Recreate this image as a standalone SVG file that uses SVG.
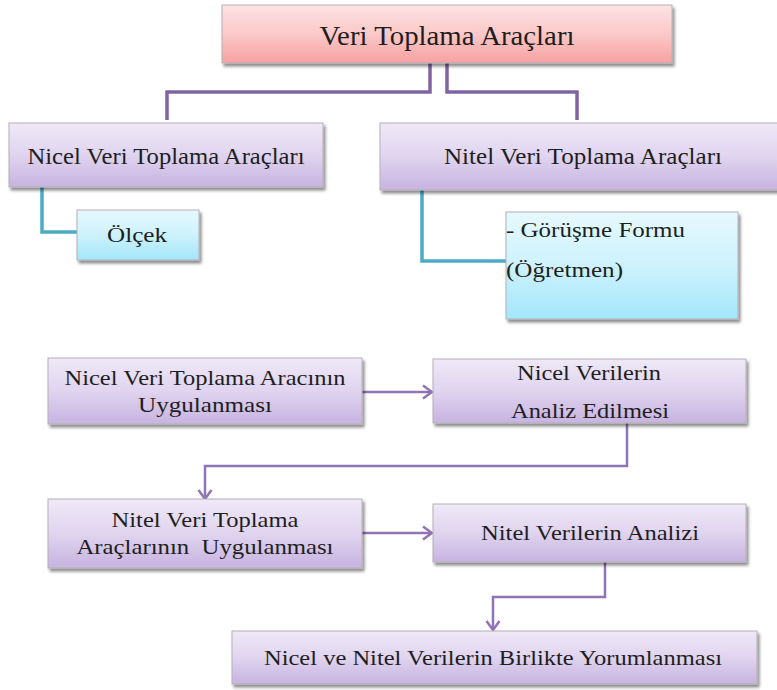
<svg xmlns="http://www.w3.org/2000/svg" width="777" height="690" viewBox="0 0 777 690">
<style>
.t{font-family:"Liberation Serif","DejaVu Serif",serif;fill:#1e1e1e;}
.box{stroke:#b4b0b8;stroke-width:1;filter:url(#sh);}
.pur{fill:url(#gPur);}
.cy{fill:url(#gCy);}
.pk{fill:url(#gPk);}
.lnP{fill:none;stroke:#8064a2;stroke-width:3.5;}
.lnC{fill:none;stroke:#4bacc6;stroke-width:3.5;}
.arr{fill:none;stroke:#8f74b6;stroke-width:2.5;marker-end:url(#ah);}
</style>
<defs>
<linearGradient id="gPur" x1="0" y1="0" x2="0" y2="1">
<stop offset="0" stop-color="#efe9f7"/><stop offset="0.5" stop-color="#e0d4ef"/><stop offset="1" stop-color="#c7b3e0"/>
</linearGradient>
<linearGradient id="gCy" x1="0" y1="0" x2="0" y2="1">
<stop offset="0" stop-color="#e6f9fe"/><stop offset="0.5" stop-color="#cdf2fc"/><stop offset="1" stop-color="#a3e6fa"/>
</linearGradient>
<linearGradient id="gPk" x1="0" y1="0" x2="0" y2="1">
<stop offset="0" stop-color="#fde3e3"/><stop offset="0.5" stop-color="#fbc8c8"/><stop offset="1" stop-color="#f7a1a1"/>
</linearGradient>
<filter id="sh" x="-5%" y="-10%" width="115%" height="135%">
<feDropShadow dx="2" dy="3" stdDeviation="1.5" flood-color="#000" flood-opacity="0.45"/>
</filter>
<marker id="ah" markerUnits="userSpaceOnUse" markerWidth="14" markerHeight="16" viewBox="0 0 14 16" refX="12" refY="8" orient="auto">
<path d="M3,1.5 L12,8 L3,14.5" fill="none" stroke="#8f74b6" stroke-width="2.5"/>
</marker>
</defs>

<g id="connectors">
<path class="lnP" d="M430,63 V92 H167 V120"/>
<path class="lnP" d="M447,63 V92 H577 V120"/>
<path class="lnC" d="M42,187 V232 H77"/>
<path class="lnC" d="M422,190 V261 H506"/>
<path class="arr" d="M362,392 H432"/>
<path class="arr" d="M627,423 V466 H205 V499"/>
<path class="arr" d="M362,533 H432"/>
<path class="arr" d="M605,562 V597 H493 V630"/>
</g>

<g id="veri-toplama">
<rect class="box pk" x="222" y="5" width="450" height="58"/>
<text class="t" x="447" y="45" font-size="27" text-anchor="middle" textLength="255" lengthAdjust="spacingAndGlyphs">Veri Toplama Araçları</text>
</g>
<g id="nicel-araclar">
<rect class="box pur" x="9" y="123" width="314" height="64"/>
<text class="t" x="166" y="164" font-size="24" text-anchor="middle" textLength="277" lengthAdjust="spacingAndGlyphs">Nicel Veri Toplama Araçları</text>
</g>
<g id="nitel-araclar">
<rect class="box pur" x="380" y="123" width="410" height="67"/>
<text class="t" x="583" y="164" font-size="24" text-anchor="middle" textLength="278" lengthAdjust="spacingAndGlyphs">Nitel Veri Toplama Araçları</text>
</g>
<g id="olcek">
<rect class="box cy" x="77" y="210" width="122" height="50"/>
<text class="t" x="137" y="242" font-size="22" text-anchor="middle" textLength="60" lengthAdjust="spacingAndGlyphs">Ölçek</text>
</g>
<g id="gorusme">
<rect class="box cy" x="506" y="212" width="232" height="107"/>
<text class="t" x="506" y="237" font-size="22" textLength="179" lengthAdjust="spacingAndGlyphs">- Görüşme Formu</text>
<text class="t" x="506" y="277" font-size="22" textLength="117" lengthAdjust="spacingAndGlyphs">(Öğretmen)</text>
</g>
<g id="nicel-uygulama">
<rect class="box pur" x="48" y="358" width="314" height="66"/>
<text class="t" x="205" y="385" font-size="22" text-anchor="middle" textLength="281" lengthAdjust="spacingAndGlyphs">Nicel Veri Toplama Aracının</text>
<text class="t" x="205" y="412" font-size="22" text-anchor="middle" textLength="134" lengthAdjust="spacingAndGlyphs">Uygulanması</text>
</g>
<g id="nicel-analiz">
<rect class="box pur" x="433" y="359" width="313" height="64"/>
<text class="t" x="589" y="380" font-size="22" text-anchor="middle" textLength="144" lengthAdjust="spacingAndGlyphs">Nicel Verilerin</text>
<text class="t" x="590" y="418" font-size="22" text-anchor="middle" textLength="158" lengthAdjust="spacingAndGlyphs">Analiz Edilmesi</text>
</g>
<g id="nitel-uygulama">
<rect class="box pur" x="48" y="499" width="314" height="69"/>
<text class="t" x="205" y="527" font-size="22" text-anchor="middle" textLength="187" lengthAdjust="spacingAndGlyphs">Nitel Veri Toplama</text>
<text class="t" x="205" y="554" font-size="22" text-anchor="middle" textLength="257" lengthAdjust="spacingAndGlyphs" xml:space="preserve">Araçlarının  Uygulanması</text>
</g>
<g id="nitel-analiz">
<rect class="box pur" x="433" y="504" width="313" height="58"/>
<text class="t" x="590" y="540" font-size="22" text-anchor="middle" textLength="218" lengthAdjust="spacingAndGlyphs">Nitel Verilerin Analizi</text>
</g>
<g id="birlikte-yorum">
<rect class="box pur" x="232" y="631" width="525" height="53"/>
<text class="t" x="493" y="665" font-size="22" text-anchor="middle" textLength="458" lengthAdjust="spacingAndGlyphs">Nicel ve Nitel Verilerin Birlikte Yorumlanması</text>
</g>
</svg>
